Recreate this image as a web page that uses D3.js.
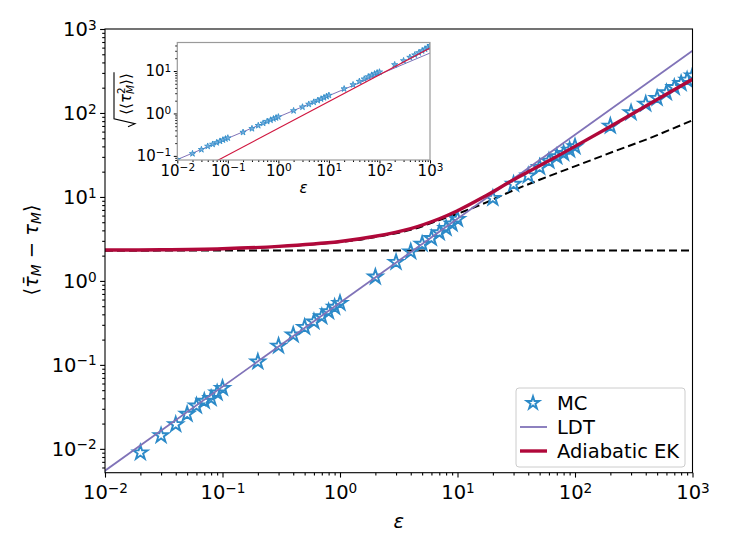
<!DOCTYPE html>
<html><head><meta charset="utf-8">
<script src="https://cdn.jsdelivr.net/npm/d3@7"></script>
<style>body{margin:0;background:#fff} svg{display:block;font-family:"DejaVu Sans",sans-serif}</style>
</head><body><svg id="c" width="730" height="551"></svg>
<script>
// ---------- data ----------
const mcEps = [0.01,0.02,0.03,0.04,0.05,0.06,0.07,0.08,0.09,
  0.1,0.2,0.3,0.4,0.5,0.6,0.7,0.8,0.9,
  1,2,3,4,5,6,7,8,9,
  10,20,30,40,50,60,70,80,90,
  100,200,300,400,500,600,700,800,900,1000];
const mcMean = [0.0042,0.0090,0.0144,0.0195,0.0259,0.0325,0.037,0.040,0.0465,
  0.0528,0.109,0.168,0.228,0.281,0.327,0.376,0.431,0.487,
  0.543,1.12,1.67,2.23,2.75,3.22,3.76,4.24,4.78,
  5.43,9.65,14.2,17.9,22.6,26.8,30.2,33.1,36.3,
  39.8,70,101,128,150,175,202,225,247,278];
const mcStd = [0.082,0.113,0.141,0.169,0.188,0.205,0.222,0.238,0.252,
  0.265,0.36,0.44,0.52,0.59,0.65,0.70,0.75,0.79,
  0.83,1.16,1.42,1.65,1.85,2.03,2.2,2.36,2.52,
  2.68,3.8,4.76,5.7,6.5,7.3,8.0,8.6,9.1,
  9.5,14.1,17.5,21,24,27,30,33,36,40];
const ldtEps = [0.01, 1000];
const ldtMean = [0.0055, 550];
const ldtStd = [0.082, 26.5];
const ekEps = [0.01,0.03,0.1,0.3,1,2,4,7,10,16.5,30,60,100,200,500,1000];
const ekMean = [2.33,2.35,2.42,2.58,2.95,3.4,4.2,5.5,6.85,9.9,16.0,27.0,40,69,145,252];
const ekStdEps = [0.01, 1000];
const ekStd = [0.0246, 34.8];
const plateauEps = [0.01, 1000];
const plateauVal = [2.3, 2.3];
const approxEps = [0.01,0.1,1,2,4,7,10,16.5,31.7,60.8,117,224,430,1000];
const approxVal = [2.31,2.4,2.9,3.33,4.05,5.3,6.3,8.3,12.4,17.8,25.2,35.6,50,82];
const xMajor = [1e-2,1e-1,1e0,1e1,1e2,1e3];
const yMajor = [1e-2,1e-1,1e0,1e1,1e2,1e3];
const insetYMajor = [1e-1,1e0,1e1];
const legendLabels = ["MC","LDT","Adiabatic EK"];

// ---------- style ----------
const C_MC = "#2c8ac8", C_LDT = "#8073b8", C_EK = "#b0083a";
const svg = d3.select("#c");
const FS = 19.5;

function minorTicks(lo, hi){
  const out=[];
  for(let e=Math.floor(Math.log10(lo)); e<=Math.ceil(Math.log10(hi)); e++){
    for(let k=2;k<=9;k++){const v=k*Math.pow(10,e); if(v>=lo*0.999 && v<=hi*1.001) out.push(v);}
  }
  return out;
}
function expLabel(sel){
  sel.each(function(d){
    const t=d3.select(this); t.text(null);
    const e=Math.round(Math.log10(d));
    t.append("tspan").text("10");
    t.append("tspan").attr("dy","-0.45em").attr("font-size","70%").text(e<0?"\u2212"+(-e):String(e));
  });
}
function ptsFrom(xs, ys){ return xs.map((v,i)=>[v, ys[i]]); }

// ---------- main axes ----------
const L=105, R=692.5, T=29, B=472.7;
const x = d3.scaleLog().domain([0.01,1000]).range([L,R]);
const y = d3.scaleLog().domain([0.0052,1000]).range([B,T]);

svg.append("clipPath").attr("id","clipMain").append("rect")
  .attr("x",L).attr("y",T).attr("width",R-L).attr("height",B-T);
const plot = svg.append("g").attr("clip-path","url(#clipMain)");

const line = d3.line().x(d=>x(d[0])).y(d=>y(d[1])).curve(d3.curveCatmullRom.alpha(0.5));
const lineLin = d3.line().x(d=>x(d[0])).y(d=>y(d[1]));

plot.append("path").attr("d",lineLin(ptsFrom(plateauEps,plateauVal)))
  .attr("fill","none").attr("stroke","#000").attr("stroke-width",2).attr("stroke-dasharray","8,4");
plot.append("path").attr("d",line(ptsFrom(approxEps,approxVal)))
  .attr("fill","none").attr("stroke","#000").attr("stroke-width",2).attr("stroke-dasharray","8,4");

const star = d3.symbol().type(d3.symbolStar);
plot.selectAll("path.mc").data(ptsFrom(mcEps,mcMean)).join("path").attr("class","mc")
  .attr("transform",d=>`translate(${x(d[0])},${y(d[1])})`)
  .attr("d",star.size(64)()).attr("fill","none").attr("stroke",C_MC).attr("stroke-width",1.9);

plot.append("path").attr("d",lineLin(ptsFrom(ldtEps,ldtMean)))
  .attr("fill","none").attr("stroke",C_LDT).attr("stroke-width",1.8);
plot.append("path").attr("d",line(ptsFrom(ekEps,ekMean)))
  .attr("fill","none").attr("stroke",C_EK).attr("stroke-width",3.4);

// axes
const gx = svg.append("g").attr("transform",`translate(0,${B})`)
  .call(d3.axisBottom(x).tickValues(xMajor).tickSize(4.9).tickPadding(8));
gx.selectAll("text").attr("font-size",FS).attr("font-family","DejaVu Sans").attr("fill","#000").call(expLabel);
svg.append("g").attr("transform",`translate(0,${B})`)
  .call(d3.axisBottom(x).tickValues(minorTicks(0.01,1000)).tickSize(2.8).tickFormat(""))
  .call(g=>g.select(".domain").remove());
const gy = svg.append("g").attr("transform",`translate(${L},0)`)
  .call(d3.axisLeft(y).tickValues(yMajor).tickSize(4.9).tickPadding(3.5));
gy.selectAll("text").attr("font-size",FS).attr("font-family","DejaVu Sans").attr("fill","#000").call(expLabel);
svg.append("g").attr("transform",`translate(${L},0)`)
  .call(d3.axisLeft(y).tickValues(minorTicks(0.0052,1000)).tickSize(2.8).tickFormat(""))
  .call(g=>g.select(".domain").remove());
svg.selectAll(".tick line").attr("stroke","#000").attr("stroke-width",1.1);
svg.selectAll(".domain").remove();
svg.append("rect").attr("x",L).attr("y",T).attr("width",R-L).attr("height",B-T)
  .attr("fill","none").attr("stroke","#000").attr("stroke-width",1.1);

// axis labels
svg.append("text").attr("x",(L+R)/2).attr("y",528).attr("text-anchor","middle")
  .attr("font-size",FS).attr("font-style","italic").text("\u03b5");
const yl = svg.append("text").attr("transform","translate(38,250) rotate(-90)")
  .attr("text-anchor","middle").attr("font-size",FS);
yl.append("tspan").text("\u27e8");
yl.append("tspan").attr("font-style","italic").text("\u03c4\u0304");
yl.append("tspan").attr("font-style","italic").attr("font-size","70%").attr("dy","0.25em").text("M");
yl.append("tspan").attr("dy","-0.175em").text(" \u2212 ");
yl.append("tspan").attr("font-style","italic").text("\u03c4");
yl.append("tspan").attr("font-style","italic").attr("font-size","70%").attr("dy","0.25em").text("M");
yl.append("tspan").attr("dy","-0.175em").text("\u27e9");

// legend
const lg = svg.append("g");
lg.append("rect").attr("x",516).attr("y",388).attr("width",169).attr("height",79).attr("rx",3)
  .attr("fill","#fff").attr("fill-opacity",0.8).attr("stroke","#cccccc").attr("stroke-width",1);
const rowsY=[403,427,451];
lg.append("path").attr("transform",`translate(533,${rowsY[0]})`).attr("d",star.size(50)())
  .attr("fill","none").attr("stroke",C_MC).attr("stroke-width",1.9);
lg.append("line").attr("x1",520).attr("x2",547).attr("y1",rowsY[1]).attr("y2",rowsY[1]).attr("stroke",C_LDT).attr("stroke-width",1.8);
lg.append("line").attr("x1",520).attr("x2",547).attr("y1",rowsY[2]).attr("y2",rowsY[2]).attr("stroke",C_EK).attr("stroke-width",3.4);
legendLabels.forEach((s,i)=>lg.append("text").attr("x",557).attr("y",rowsY[i]+7).attr("font-size",FS).text(s));

// ---------- inset ----------
const iL=177.3, iR=430, iT=42.5, iB=160;
const xi = d3.scaleLog().domain([0.01,1000]).range([iL,iR]);
const yi = d3.scaleLog().domain([0.08,47]).range([iB,iT]);
svg.append("rect").attr("x",iL).attr("y",iT).attr("width",iR-iL).attr("height",iB-iT).attr("fill","#fff");
svg.append("clipPath").attr("id","clipIn").append("rect")
  .attr("x",iL).attr("y",iT).attr("width",iR-iL).attr("height",iB-iT);
const ip = svg.append("g").attr("clip-path","url(#clipIn)");
const lineI = d3.line().x(d=>xi(d[0])).y(d=>yi(d[1]));
ip.append("path").attr("d",lineI(ptsFrom(ldtEps,ldtStd))).attr("fill","none").attr("stroke",C_LDT).attr("stroke-width",1);
ip.selectAll("path.ms").data(ptsFrom(mcEps,mcStd)).join("path").attr("class","ms")
  .attr("transform",d=>`translate(${xi(d[0])},${yi(d[1])})`)
  .attr("d",star.size(12)()).attr("fill","#79b0de").attr("stroke",C_MC).attr("stroke-width",0.8);
ip.append("path").attr("d",lineI(ptsFrom(ekStdEps,ekStd))).attr("fill","none").attr("stroke","#d0173f").attr("stroke-width",1.1);

const FSi = 15;
const gxi = svg.append("g").attr("transform",`translate(0,${iB})`)
  .call(d3.axisBottom(xi).tickValues(xMajor).tickSize(3.5).tickPadding(2));
gxi.selectAll("text").attr("font-size",FSi).attr("font-family","DejaVu Sans").attr("fill","#000").call(expLabel);
svg.append("g").attr("transform",`translate(0,${iB})`)
  .call(d3.axisBottom(xi).tickValues(minorTicks(0.01,1000)).tickSize(2).tickFormat(""))
  .call(g=>g.select(".domain").remove());
const gyi = svg.append("g").attr("transform",`translate(${iL},0)`)
  .call(d3.axisLeft(yi).tickValues(insetYMajor).tickSize(3.5).tickPadding(2.5));
gyi.selectAll("text").attr("font-size",FSi).attr("font-family","DejaVu Sans").attr("fill","#000").call(expLabel);
svg.append("g").attr("transform",`translate(${iL},0)`)
  .call(d3.axisLeft(yi).tickValues(minorTicks(0.08,47)).tickSize(2).tickFormat(""))
  .call(g=>g.select(".domain").remove());
svg.selectAll(".tick line").attr("stroke","#000");
svg.selectAll(".domain").remove();
svg.append("rect").attr("x",iL).attr("y",iT).attr("width",iR-iL).attr("height",iB-iT)
  .attr("fill","none").attr("stroke","#9a9a9a").attr("stroke-width",1.2);

svg.append("text").attr("x",(iL+iR)/2).attr("y",193).attr("text-anchor","middle")
  .attr("font-size",FSi).attr("font-style","italic").text("\u03b5");

// inset y label: sqrt(<<tau_M^2>>)
const gl = svg.append("g");
const tl = gl.append("text").attr("x",0).attr("y",0).attr("font-size",15);
tl.append("tspan").text("\u27e8\u27e8");
tl.append("tspan").attr("font-style","italic").text("\u03c4");
tl.append("tspan").attr("font-size",10.5).attr("dy",-6).text("2");
tl.append("tspan").attr("font-size",10.5).attr("font-style","italic").attr("dx",-6.7).attr("dy",9).text("M");
tl.append("tspan").attr("dy",-3).text("\u27e9\u27e9");
const bb = tl.node().getBBox();
gl.append("path").attr("d",`M${bb.x-12},${-3} L${bb.x-9},${4} L${bb.x-4},${bb.y-1} L${bb.x+bb.width+1},${bb.y-1}`)
  .attr("fill","none").attr("stroke","#000").attr("stroke-width",1.1);
const midX = bb.x - 6 + bb.width/2;
gl.attr("transform",`translate(131,100) rotate(-90) translate(${-midX},0)`);
</script></body></html>
